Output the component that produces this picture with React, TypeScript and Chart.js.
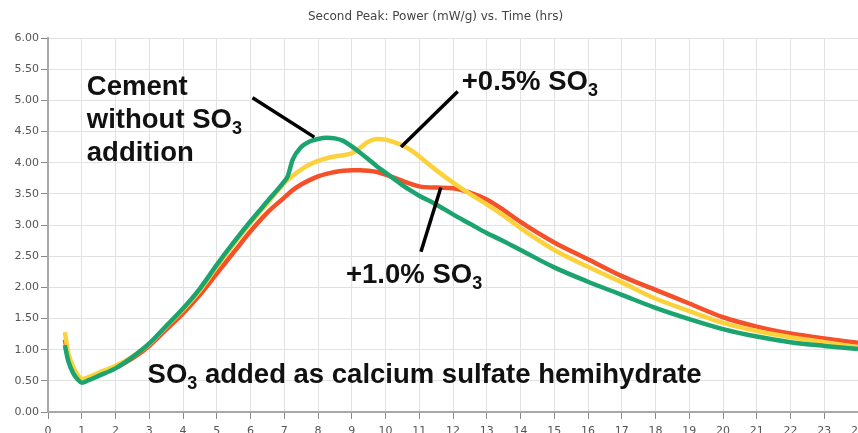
import React, { useEffect, useRef } from 'react';
import { Chart, registerables } from 'chart.js';

Chart.register(...registerables);

// ---- data ----
const hours = [
  0.5, 0.6, 0.75, 0.9, 1.0, 1.2, 1.5, 2.0, 2.5, 3.0, 3.5, 4.0, 4.5, 5.0, 5.5, 6.0, 6.5, 7.0, 7.1,
  7.25, 7.5, 7.75, 8.0, 8.25, 8.5, 8.75, 9.0, 9.25, 9.5, 9.75, 10.0, 10.25, 10.5, 10.75, 11.0,
  11.5, 12.0, 12.5, 13.0, 13.5, 14.0, 15.0, 16.0, 17.0, 18.0, 19.0, 20.0, 21.0, 22.0, 23.0, 24.0,
];

const cementNoSO3 = [
  1.07, 0.82, 0.62, 0.51, 0.47, 0.51, 0.58, 0.70, 0.88, 1.10, 1.38, 1.66, 1.98, 2.36, 2.72, 3.06, 3.38, 3.70, 3.78,
  4.05, 4.25, 4.34, 4.38, 4.40, 4.39, 4.35, 4.26, 4.16, 4.05, 3.94, 3.84, 3.74, 3.64, 3.55, 3.47,
  3.33, 3.17, 3.02, 2.87, 2.74, 2.60, 2.32, 2.09, 1.88, 1.67, 1.49, 1.33, 1.21, 1.12, 1.06, 1.01,
];

const plus05SO3 = [
  1.28, 0.95, 0.72, 0.58, 0.53, 0.56, 0.63, 0.74, 0.89, 1.09, 1.37, 1.64, 1.95, 2.33, 2.69, 3.03, 3.35, 3.67, 3.72,
  3.79, 3.89, 3.97, 4.03, 4.07, 4.10, 4.12, 4.15, 4.24, 4.34, 4.38, 4.37, 4.33, 4.28, 4.20, 4.10,
  3.88, 3.68, 3.50, 3.33, 3.15, 2.95, 2.60, 2.33, 2.08, 1.82, 1.62, 1.43, 1.30, 1.20, 1.12, 1.04,
];

const plus10SO3 = [
  1.16, 0.88, 0.66, 0.54, 0.49, 0.52, 0.59, 0.71, 0.86, 1.06, 1.32, 1.58, 1.88, 2.22, 2.56, 2.90, 3.20, 3.44, 3.49,
  3.56, 3.65, 3.72, 3.78, 3.82, 3.85, 3.87, 3.88, 3.88, 3.87, 3.85, 3.81, 3.76, 3.71, 3.66, 3.62,
  3.60, 3.59, 3.52, 3.41, 3.24, 3.05, 2.72, 2.45, 2.18, 1.96, 1.74, 1.52, 1.37, 1.26, 1.18, 1.11,
];

const TITLE = 'Second Peak: Power (mW/g) vs. Time (hrs)';

// annotation texts (positions in data units: hours, mW/g)
const notes = [
  { t: 1.15, v: 5.09, parts: [{ text: 'Cement' }] },
  { t: 1.15, v: 4.56, parts: [{ text: 'without SO' }, { text: '3', sub: true }] },
  { t: 1.15, v: 4.03, parts: [{ text: 'addition' }] },
  { t: 12.26, v: 5.17, parts: [{ text: '+0.5% SO' }, { text: '3', sub: true }] },
  { t: 8.83, v: 2.07, parts: [{ text: '+1.0% SO' }, { text: '3', sub: true }] },
  { t: 2.95, v: 0.47, parts: [{ text: 'SO' }, { text: '3', sub: true }, { text: ' added as calcium sulfate hemihydrate' }] },
];

const leaders = [
  { t1: 6.06, v1: 5.04, t2: 7.89, v2: 4.41 },
  { t1: 12.14, v1: 5.14, t2: 10.46, v2: 4.25 },
  { t1: 11.64, v1: 3.60, t2: 11.05, v2: 2.57 },
];

const notesPlugin = {
  id: 'notesPlugin',
  afterDatasetsDraw(chart: any) {
    const { ctx } = chart;
    const xs = chart.scales.x;
    const ys = chart.scales.y;
    ctx.save();
    ctx.strokeStyle = '#000';
    ctx.lineWidth = 3.5;
    for (const l of leaders) {
      ctx.beginPath();
      ctx.moveTo(xs.getPixelForValue(l.t1), ys.getPixelForValue(l.v1));
      ctx.lineTo(xs.getPixelForValue(l.t2), ys.getPixelForValue(l.v2));
      ctx.stroke();
    }
    ctx.fillStyle = '#111';
    ctx.textBaseline = 'alphabetic';
    ctx.textAlign = 'left';
    for (const n of notes) {
      let px = xs.getPixelForValue(n.t);
      const py = ys.getPixelForValue(n.v);
      for (const p of n.parts as any[]) {
        ctx.font = p.sub ? 'bold 18px "Liberation Sans", Arial, sans-serif' : 'bold 27.5px "Liberation Sans", Arial, sans-serif';
        ctx.fillText(p.text, px, p.sub ? py + 6 : py);
        px += ctx.measureText(p.text).width;
      }
    }
    ctx.restore();
  },
};

export default function App() {
  const ref = useRef<HTMLCanvasElement | null>(null);

  useEffect(() => {
    if (!ref.current) return;
    const mk = (vals: number[]) => hours.map((h, i) => ({ x: h, y: vals[i] }));
    const chart = new Chart(ref.current, {
      type: 'line',
      data: {
        datasets: [
          { label: 'Cement without SO3', data: mk(cementNoSO3), borderColor: '#1ca470', backgroundColor: '#1ca470' },
          { label: '+0.5% SO3', data: mk(plus05SO3), borderColor: '#fcd23c', backgroundColor: '#fcd23c' },
          { label: '+1.0% SO3', data: mk(plus10SO3), borderColor: '#f4502a', backgroundColor: '#f4502a' },
        ].map((d) => ({ ...d, borderWidth: 4.5, pointRadius: 0, cubicInterpolationMode: 'monotone' as const, fill: false })),
      },
      options: {
        responsive: false,
        animation: false,
        devicePixelRatio: 1,
        layout: { padding: 0 },
        plugins: {
          legend: { display: false },
          tooltip: { enabled: false },
          title: {
            display: true,
            text: TITLE,
            color: '#444',
            font: { family: '"DejaVu Sans", Verdana, sans-serif', size: 12, weight: 'normal' },
            padding: { top: 10, bottom: 13.6 },
          },
        },
        scales: {
          x: {
            type: 'linear',
            min: 0,
            max: 24,
            ticks: {
              stepSize: 1,
              color: '#555',
              padding: 6,
              font: { family: '"DejaVu Sans", Verdana, sans-serif', size: 11 },
              maxRotation: 0,
              callback: (v: any) => String(v),
            },
            grid: { color: '#e2e2e2', lineWidth: 1, tickLength: 7, tickColor: '#888' },
            border: { color: '#a8a8a8', width: 2 },
            afterFit: (s: any) => { s.height = 32; },
          },
          y: {
            min: 0,
            max: 6,
            ticks: {
              stepSize: 0.5,
              color: '#555',
              padding: 2,
              font: { family: '"DejaVu Sans", Verdana, sans-serif', size: 11 },
              callback: (v: any) => Number(v).toFixed(2),
            },
            grid: { color: '#e2e2e2', lineWidth: 1, tickLength: 7, tickColor: '#888' },
            border: { color: '#a8a8a8', width: 2 },
            afterFit: (s: any) => { s.width = 48; },
          },
        },
      },
      plugins: [notesPlugin],
    });
    return () => chart.destroy();
  }, []);

  return (
    <div style={{ position: 'absolute', left: 0, top: 0, width: 858, height: 433, overflow: 'hidden', background: '#fff' }}>
      <canvas ref={ref} width={871} height={444} style={{ display: 'block' }} />
    </div>
  );
}
